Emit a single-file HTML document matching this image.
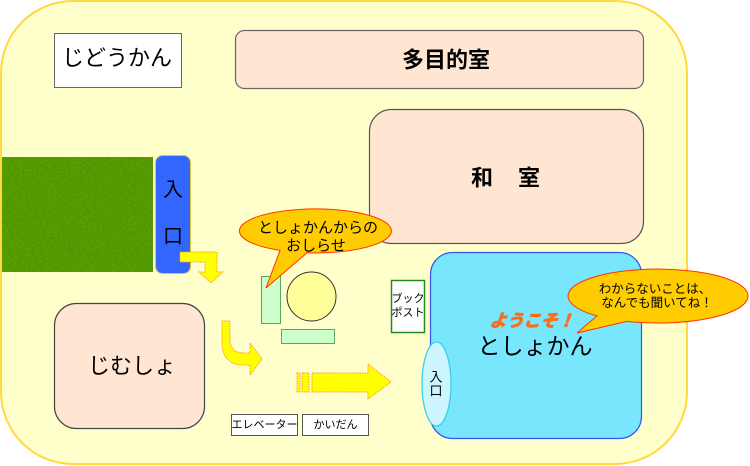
<!DOCTYPE html>
<html><head><meta charset="utf-8"><style>
html,body{margin:0;padding:0;background:#fff;}
svg{display:block;}
text{font-family:"Liberation Sans","Noto Sans CJK JP",sans-serif;fill:#000;}
</style></head><body>
<svg width="750" height="466" viewBox="0 0 750 466" xmlns="http://www.w3.org/2000/svg">
<defs>
<filter id="tex" x="0" y="0" width="100%" height="100%">
<feTurbulence type="fractalNoise" baseFrequency="0.35 0.5" numOctaves="2" seed="5" result="n"/>
<feColorMatrix in="n" type="matrix" values="0 0 0 0 0.2  0 0 0 0 0.42  0 0 0 0 0  0 0 0 0.9 -0.3" result="c"/>
<feComposite in="c" in2="SourceGraphic" operator="in"/>
</filter>
</defs>
<!-- background -->
<rect x="1" y="1" width="686" height="463" rx="72" ry="72" fill="#ffffcc" stroke="#ffd93d" stroke-width="2"/>

<!-- じどうかん -->
<rect x="54.5" y="33.5" width="127" height="54" fill="#fff" stroke="#666" stroke-width="1"/>
<text x="117" y="58" font-size="22" text-anchor="middle" dominant-baseline="central">じどうかん</text>

<!-- 多目的室 -->
<rect x="235.5" y="30.5" width="408" height="58" rx="9" fill="#ffe6d2" stroke="#666" stroke-width="1.2"/>
<text x="446" y="60" font-size="22" font-weight="bold" text-anchor="middle" dominant-baseline="central">多目的室</text>

<!-- 和室 -->
<rect x="369.5" y="109.5" width="274" height="134" rx="22" fill="#ffe6d2" stroke="#555" stroke-width="1.2"/>
<text x="482" y="178" font-size="22" font-weight="bold" text-anchor="middle" dominant-baseline="central">和</text>
<text x="529" y="178" font-size="22" font-weight="bold" text-anchor="middle" dominant-baseline="central">室</text>

<!-- green area -->
<rect x="2" y="157" width="151" height="115" fill="#4d9703"/>
<rect x="2" y="157" width="151" height="115" fill="#4d9703" filter="url(#tex)"/>

<!-- 入口 blue -->
<rect x="155.5" y="155.5" width="35" height="118" rx="7" fill="#3366ff" stroke="#d4cc44" stroke-width="1"/>
<text x="173" y="190" font-size="20" text-anchor="middle" dominant-baseline="central">入</text>
<text x="173" y="237" font-size="20" text-anchor="middle" dominant-baseline="central">口</text>

<!-- arrow 1 -->
<path d="M180,252 L217,252 L217,272 L223,272 L211,283 L199,272 L205,272 L205,262 L180,262 Z" fill="#ffff00" stroke="#ff9933" stroke-width="1" stroke-dasharray="1.5,1"/>

<!-- じむしょ -->
<rect x="54.5" y="303.5" width="150" height="125" rx="22" fill="#ffe6d2" stroke="#444" stroke-width="1.2"/>
<text x="132" y="366" font-size="22" text-anchor="middle" dominant-baseline="central">じむしょ</text>

<!-- arrow 2 -->
<path d="M222,321 L230,321 L230,340 Q230,353 245,353 L250,353 L250,343 L262,359 L250,375 L250,365 L244,365 Q222,365 222,342 Z" fill="#ffff00" stroke="#ff9933" stroke-width="1" stroke-dasharray="1.5,1"/>

<!-- arrow 3 -->
<rect x="297" y="373" width="3" height="19" fill="#ffff00" stroke="#ff9933" stroke-width="1" stroke-dasharray="1.5,1"/>
<rect x="302" y="373" width="7" height="19" fill="#ffff00" stroke="#ff9933" stroke-width="1" stroke-dasharray="1.5,1"/>
<path d="M312,373 L368,373 L368,364 L391,382 L368,399 L368,392 L312,392 Z" fill="#ffff00" stroke="#ff9933" stroke-width="1" stroke-dasharray="1.5,1"/>

<!-- furniture -->
<rect x="261.5" y="276.5" width="19" height="47" fill="#ccffcc" stroke="#55aa55" stroke-width="1"/>
<rect x="281.5" y="329.5" width="53" height="14" fill="#ccffcc" stroke="#55aa55" stroke-width="1"/>
<circle cx="311.5" cy="296.5" r="24.5" fill="#ffff99" stroke="#333" stroke-width="1"/>

<!-- bubble 1 -->
<path d="M280,250.4 L266,288 L307,252.8 A76,22 0 1 0 280,250.4 Z" fill="#ffcc00" stroke="#ff3300" stroke-width="1"/>
<text x="318" y="228" font-size="15" text-anchor="middle" dominant-baseline="central">としょかんからの</text>
<text x="316" y="246" font-size="15" text-anchor="middle" dominant-baseline="central">おしらせ</text>

<!-- elevator / stairs -->
<rect x="231.5" y="414.5" width="66" height="21" fill="#fff" stroke="#555" stroke-width="1"/>
<text x="264.5" y="425" font-size="11" text-anchor="middle" dominant-baseline="central">エレベーター</text>
<rect x="302.5" y="414.5" width="66" height="21" fill="#fff" stroke="#555" stroke-width="1"/>
<text x="335.5" y="425" font-size="11" text-anchor="middle" dominant-baseline="central">かいだん</text>

<!-- ブックポスト -->
<rect x="391.5" y="280.5" width="33" height="52" fill="#fff" stroke="#228822" stroke-width="1.5"/>
<text x="408" y="299" font-size="11" text-anchor="middle" dominant-baseline="central">ブック</text>
<text x="408" y="313" font-size="11" text-anchor="middle" dominant-baseline="central">ポスト</text>

<!-- library room -->
<rect x="430.5" y="252.5" width="211" height="186" rx="22" fill="#78e6fd" stroke="#3355ee" stroke-width="1.2"/>
<ellipse cx="436.5" cy="384" rx="14.5" ry="42" fill="#ccf5ff" stroke="#33ccee" stroke-width="1.2"/>
<text x="436" y="377" font-size="13" text-anchor="middle" dominant-baseline="central">入</text>
<text x="436" y="391" font-size="13" text-anchor="middle" dominant-baseline="central">口</text>

<text x="535" y="346" font-size="23" text-anchor="middle" dominant-baseline="central">としょかん</text>
<text x="532" y="321" font-size="17" font-weight="bold" font-style="italic" text-anchor="middle" dominant-baseline="central" style="fill:#ff6a13;stroke:#ff6a13;stroke-width:0.9" transform="skewX(-6) translate(34,0)">ようこそ！</text>

<!-- bubble 2 -->
<path d="M597,315.9 L577,333 L627,321.4 A90,27 0 1 0 597,315.9 Z" fill="#ffcc00" stroke="#ff3300" stroke-width="1"/>
<text x="655" y="289" font-size="12.5" text-anchor="middle" dominant-baseline="central">わからないことは、</text>
<text x="657" y="303" font-size="12.5" text-anchor="middle" dominant-baseline="central">なんでも聞いてね！</text>
</svg>
</body></html>
